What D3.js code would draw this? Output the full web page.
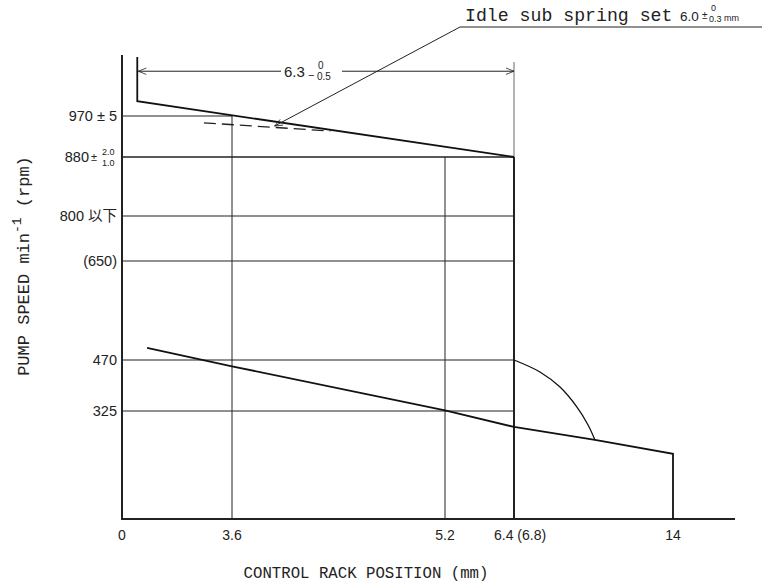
<!DOCTYPE html>
<html>
<head>
<meta charset="utf-8">
<script src="https://cdn.jsdelivr.net/npm/d3@7"></script>
<style>
  body { margin: 0; background: #fff; }
  svg { display: block; }
  .num { font-family: "Liberation Sans", "Noto Sans CJK JP", sans-serif; fill: #222; }
  .mono { font-family: "Liberation Mono", "DejaVu Sans Mono", monospace; fill: #222; }
</style>
</head>
<body>
<svg id="chart" width="768" height="588"></svg>
<script>
// ticks (schematic axes, not to scale)
const xTicks = [0, 3.6, 5.2, 6.4, 14];
const xTickLabels = ["0", "3.6", "5.2", "6.4 (6.8)", "14"];
const yTicks = [970, 880, 800, 650, 470, 325];
const yTickLabels = ["970 ± 5", "880", "800 以下", "(650)", "470", "325"];

// curves (rack mm, rpm)
const idleLine = [{x: 0.5, y: 1098}, {x: 0.5, y: 1002}, {x: 6.4, y: 880}];
const subSpringLine = [{x: 2.68, y: 955}, {x: 4.34, y: 937}];
const lowLine = [{x: 0.82, y: 492}, {x: 3.6, y: 452}, {x: 5.2, y: 327}, {x: 6.4, y: 277},
                 {x: 10.27, y: 238}, {x: 14, y: 196}, {x: 14, y: 0}];
const arcLine = [{x: 6.4, y: 470}, {x: 7.64, y: 436}, {x: 8.6, y: 393}, {x: 9.41, y: 336},
                 {x: 9.94, y: 283}, {x: 10.27, y: 238}];

// guide lines
const gridH = [{y: 970, x1: 3.6}, {y: 880, x1: 6.4}, {y: 800, x1: 6.4},
               {y: 650, x1: 6.4}, {y: 470, x1: 6.4}, {y: 325, x1: 6.4}];
const gridV = [{x: 3.6, y1: 970}, {x: 5.2, y1: 880}];

const svg = d3.select("#chart");

var x = d3.scaleLinear().domain([0, 3.6, 5.2, 6.4, 14, 17]).range([122, 232, 445, 514, 673, 735]);
var y = d3.scaleLinear().domain([0, 325, 470, 650, 800, 880, 970, 1100])
          .range([519, 411, 360, 261, 216, 157, 116, 56]);

svg.append("defs").append("marker")
  .attr("id", "arr").attr("viewBox", "0 0 10 10").attr("refX", 10).attr("refY", 5)
  .attr("markerWidth", 14).attr("markerHeight", 8).attr("markerUnits", "userSpaceOnUse")
  .attr("orient", "auto-start-reverse")
  .append("path").attr("d", "M0,1 L10,5 L0,9").attr("fill", "none").attr("stroke", "#222").attr("stroke-width", 1);

const line = d3.line().x(d => x(d.x)).y(d => y(d.y));
const g = svg.append("g");

// horizontal guides
g.selectAll(".gh").data(gridH).join("line")
  .attr("x1", x(0)).attr("x2", d => x(d.x1))
  .attr("y1", d => y(d.y)).attr("y2", d => y(d.y))
  .attr("stroke", "#222").attr("stroke-width", d => d.y == 880 ? 1.6 : 1.1);

// vertical guides
g.selectAll(".gv").data(gridV).join("line")
  .attr("x1", d => x(d.x)).attr("x2", d => x(d.x))
  .attr("y1", y(0)).attr("y2", d => y(d.y1))
  .attr("stroke", "#222").attr("stroke-width", 1);

// 6.4 line: thick below 880, thin extension above
g.append("line").attr("x1", x(6.4)).attr("x2", x(6.4)).attr("y1", y(0)).attr("y2", y(880))
  .attr("stroke", "#222").attr("stroke-width", 2);
g.append("line").attr("x1", x(6.4)).attr("x2", x(6.4)).attr("y1", y(880)).attr("y2", 62)
  .attr("stroke", "#444").attr("stroke-width", 0.8);

// axes
g.append("line").attr("x1", x(0)).attr("x2", x(0)).attr("y1", y(0) + 1).attr("y2", 55)
  .attr("stroke", "#222").attr("stroke-width", 2);
g.append("line").attr("x1", x(0)).attr("x2", x(17)).attr("y1", y(0)).attr("y2", y(0))
  .attr("stroke", "#222").attr("stroke-width", 2);

// curves
g.append("path").attr("d", line(idleLine)).attr("fill", "none").attr("stroke", "#111").attr("stroke-width", 1.8);
g.append("path").attr("d", line(subSpringLine)).attr("fill", "none").attr("stroke", "#222")
  .attr("stroke-width", 1.3).attr("stroke-dasharray", "12,6");
g.append("path").attr("d", line(lowLine)).attr("fill", "none").attr("stroke", "#111").attr("stroke-width", 1.8);
g.append("path").attr("d", line.curve(d3.curveCatmullRom)(arcLine)).attr("fill", "none")
  .attr("stroke", "#111").attr("stroke-width", 1.3);
line.curve(d3.curveLinear);

// dimension 6.3
const dimY = y(1067);
g.append("line").attr("x1", 281).attr("x2", x(0.5) + 1).attr("y1", dimY).attr("y2", dimY)
  .attr("stroke", "#222").attr("stroke-width", 1).attr("marker-end", "url(#arr)");
g.append("line").attr("x1", 342).attr("x2", x(6.4)).attr("y1", dimY).attr("y2", dimY)
  .attr("stroke", "#222").attr("stroke-width", 1).attr("marker-end", "url(#arr)");
g.append("text").attr("class", "num").attr("x", 284).attr("y", dimY + 6).attr("font-size", 15).text("6.3");
g.append("text").attr("class", "num").attr("x", 308).attr("y", dimY + 8).attr("font-size", 11).text("−");
g.append("text").attr("class", "num").attr("x", 318).attr("y", dimY - 2).attr("font-size", 10).text("0");
g.append("text").attr("class", "num").attr("x", 317).attr("y", dimY + 9).attr("font-size", 10).text("0.5");

// leader to idle sub spring
const tip = [x(3.92), y(948)];
g.append("polyline").attr("points", [[762, 27], [460, 27], tip].join(" "))
  .attr("fill", "none").attr("stroke", "#222").attr("stroke-width", 1).attr("marker-end", "url(#arr)");
g.append("text").attr("class", "mono").attr("x", 465).attr("y", 21).attr("font-size", 18.2).text("Idle sub spring set");
g.append("text").attr("class", "num").attr("x", 680).attr("y", 21).attr("font-size", 13.5).text("6.0");
g.append("text").attr("class", "num").attr("x", 702).attr("y", 19).attr("font-size", 10).text("±");
g.append("text").attr("class", "num").attr("x", 711).attr("y", 11).attr("font-size", 9).text("0");
g.append("text").attr("class", "num").attr("x", 709).attr("y", 22).attr("font-size", 9).text("0.3");
g.append("text").attr("class", "num").attr("x", 724).attr("y", 21).attr("font-size", 9).text("mm");

// y tick labels
g.selectAll(".yl").data(yTicks).join("text")
  .attr("class", "num").attr("text-anchor", "end").attr("font-size", 14.5)
  .attr("x", (d, i) => d == 880 ? 89 : 117).attr("y", d => y(d) + 5)
  .text((d, i) => yTickLabels[i]);
// 880 tolerance
g.append("text").attr("class", "num").attr("x", 91).attr("y", y(880) + 4).attr("font-size", 11).text("±");
g.append("text").attr("class", "num").attr("x", 102).attr("y", y(880) - 2).attr("font-size", 9).text("2.0");
g.append("text").attr("class", "num").attr("x", 102).attr("y", y(880) + 9).attr("font-size", 9).text("1.0");

// x tick labels
g.selectAll(".xl").data(xTicks).join("text")
  .attr("class", "num").attr("font-size", 14)
  .attr("text-anchor", d => d == 6.4 ? "start" : "middle")
  .attr("x", d => d == 6.4 ? x(d) - 20 : x(d)).attr("y", 540)
  .text((d, i) => xTickLabels[i]);

// axis titles
g.append("text").attr("class", "mono").attr("x", 366).attr("y", 578).attr("text-anchor", "middle")
  .attr("font-size", 15.7).text("CONTROL RACK POSITION (mm)");
const yt = g.append("text").attr("class", "mono").attr("transform", "translate(29,266) rotate(-90)")
  .attr("text-anchor", "middle").attr("font-size", 17);
yt.append("tspan").text("PUMP SPEED min");
yt.append("tspan").attr("dy", -8).attr("font-size", 13).text("-1");
yt.append("tspan").attr("dy", 8).text(" (rpm)");
</script>
</body>
</html>
